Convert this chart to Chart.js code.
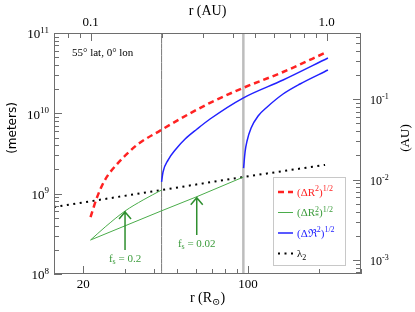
<!DOCTYPE html>
<html>
<head>
<meta charset="utf-8">
<script src="https://cdn.jsdelivr.net/npm/chart.js@4.4.1/dist/chart.umd.min.js"></script>
<style>
  html, body { margin: 0; padding: 0; background: #fff; }
  canvas { display: block; }
</style>
</head>
<body>
<canvas id="chart" width="415" height="312" style="width:415px;height:312px"></canvas>
<script>
'use strict';

// ── Units ──────────────────────────────────────────────────────
const RSUN_PER_AU = 215;
const M_PER_AU    = 1.496e11;
const R_MIN = 0.07 * RSUN_PER_AU;
const R_MAX = 1.4 * RSUN_PER_AU;
const M_MIN = 1e8;
const M_MAX = 1e11;

// ── Data (r in solar radii, sizes in metres) ───────────────────
const redR   = [21.5, 22.9, 24.8, 27.9, 31.6, 34.2, 42.4, 56.8, 69.0, 95.2, 140.7, 216];
const redM   = [5.1e8, 9.0e8, 1.5e9, 2.35e9, 3.4e9, 4.15e9, 6.1e9, 1.0e10, 1.35e10, 2.07e10, 3.27e10, 5.8e10];

const blue1R = [43, 43.6, 45.8, 49.5, 54.1, 60.8, 69.0, 95.2, 140.7, 218];
const blue1M = [1.4e9, 1.86e9, 2.62e9, 3.6e9, 4.79e9, 6.38e9, 8.5e9, 1.55e10, 2.6e10, 4.89e10];

const blue2R = [95.7, 97.1, 99.0, 103.0, 110.3, 120.5, 140.7, 166, 218];
const blue2M = [2.08e9, 3.3e9, 4.53e9, 6.56e9, 9.27e9, 1.2e10, 1.74e10, 2.32e10, 3.46e10];

const greenUpR = [21.5, 24.8, 30.1, 35.9, 43];
const greenUpM = [2.65e8, 3.85e8, 6.08e8, 8.34e8, 1.11e9];
const greenLoR = [21.5, 43, 60.6, 95.5];
const greenLoM = [2.65e8, 6.12e8, 9.16e8, 1.61e9];

const lambdaR = [15.05, 43, 95.5, 212];
const lambdaM = [6.82e8, 1.11e9, 1.61e9, 2.28e9];

const markerR = [43, 95.5];           // vertical reference lines

const arrowR    = [30.1, 60.6];
const arrowFrom = [1.99e8, 3.05e8];
const arrowTo   = [6.08e8, 9.16e8];
const arrowText = ['0.2', '0.02'];

const bottomTicks = [20, 100];
const topTicks    = [0.1, 1.0];
const topLabels   = ['0.1', '1.0'];
const leftExps    = [8, 9, 10, 11];
const rightExps   = [-3, -2, -1];

const legendLabels = [
  [{ t: '(ΔR' }, { t: '2', s: 'sup' }, { t: ')' }, { t: '1/2', s: 'sup' }],
  [{ t: '(ΔR' }, { t: '2', s: 'sup', under: '*' }, { t: ')' }, { t: '1/2', s: 'sup' }],
  [{ t: '(Δℜ' }, { t: '2', s: 'sup' }, { t: ')' }, { t: '1/2', s: 'sup' }],
  [{ t: 'λ' }, { t: '2', s: 'sub' }],
];

// ── Style constants ────────────────────────────────────────────
const SERIF  = "'Liberation Serif', 'DejaVu Serif', serif";
const SANS   = "'DejaVu Sans', sans-serif";
const RED    = '#ff2222';
const BLUE   = '#2222ff';
const GREEN  = '#4aac4a';
const GREEN_DK = '#2f8f2f';
const GREEN_TX = '#3c9c3c';
const AXIS_C = '#6e6e6e';

// ── Helpers ────────────────────────────────────────────────────
const pts = (rs, ms) => rs.map((r, i) => ({ x: r, y: ms[i] }));

function series(data, color, extra = {}) {
  return {
    data,
    borderColor: color,
    backgroundColor: color,
    borderWidth: 1.5,
    pointRadius: 0,
    fill: false,
    cubicInterpolationMode: 'monotone',
    ...extra,
  };
}

function logTicks(min, max) {
  const out = [];
  for (let d = Math.floor(Math.log10(min)); d <= Math.ceil(Math.log10(max)); d++) {
    for (let m = 1; m <= 9; m++) {
      const v = m * Math.pow(10, d);
      if (v >= min * 0.999 && v <= max * 1.001) out.push({ v, major: m === 1 });
    }
  }
  return out;
}

function partWidth(ctx, p, size) {
  if (!p.s) { ctx.font = `${size}px ${SERIF}`; return ctx.measureText(p.t).width; }
  ctx.font = `${Math.round(size * 0.7)}px ${SERIF}`;
  let w = ctx.measureText(p.t).width;
  if (p.under) w = Math.max(w, ctx.measureText(p.under).width);
  return w;
}

function drawRich(ctx, parts, x, y, size, color, align = 'left') {
  const total = parts.reduce((s, p) => s + partWidth(ctx, p, size), 0);
  let cx = align === 'center' ? x - total / 2 : align === 'right' ? x - total : x;
  ctx.fillStyle = color;
  ctx.textBaseline = 'alphabetic';
  ctx.textAlign = 'left';
  const base = y + size * 0.33;
  parts.forEach(p => {
    const w = partWidth(ctx, p, size);
    if (!p.s) {
      ctx.font = `${size}px ${SERIF}`;
      ctx.fillText(p.t, cx, base);
    } else {
      ctx.font = `${Math.round(size * 0.7)}px ${SERIF}`;
      const dy = p.s === 'sup' ? -size * 0.42 : size * 0.22;
      ctx.fillText(p.t, cx, base + dy);
      if (p.under) ctx.fillText(p.under, cx, base + size * 0.3);
    }
    cx += w;
  });
}

// ── Decorations plugin: frame, ticks, labels, legend, arrows ───
const decorations = {
  id: 'decorations',
  afterDraw(chart) {
    const { ctx, chartArea: a, scales } = chart;
    const { x, y, x2, y2 } = scales;
    ctx.save();

    // frame
    ctx.strokeStyle = AXIS_C;
    ctx.lineWidth = 1;
    ctx.strokeRect(a.left + 0.5, a.top + 0.5, a.right - a.left - 1, a.bottom - a.top - 1);

    // inward ticks
    const tick = (x0, y0, x1, y1) => {
      ctx.beginPath(); ctx.moveTo(x0, y0); ctx.lineTo(x1, y1); ctx.stroke();
    };
    logTicks(M_MIN, M_MAX).forEach(t => {
      const py = Math.round(y.getPixelForValue(t.v)) + 0.5;
      tick(a.left, py, a.left + (t.major ? 8 : 5), py);
    });
    logTicks(M_MIN / M_PER_AU, M_MAX / M_PER_AU).forEach(t => {
      const py = Math.round(y2.getPixelForValue(t.v)) + 0.5;
      tick(a.right, py, a.right - (t.major ? 8 : 5), py);
    });
    logTicks(R_MIN, R_MAX).forEach(t => {
      const px = Math.round(x.getPixelForValue(t.v)) + 0.5;
      const major = bottomTicks.some(b => Math.abs(b - t.v) < 1e-6);
      tick(px, a.bottom, px, a.bottom - (major ? 8 : 5));
    });
    logTicks(R_MIN / RSUN_PER_AU, R_MAX / RSUN_PER_AU).forEach(t => {
      const px = Math.round(x2.getPixelForValue(t.v)) + 0.5;
      tick(px, a.top, px, a.top + (t.major ? 8 : 5));
    });

    // tick labels
    leftExps.forEach(e => {
      const py = y.getPixelForValue(Math.pow(10, e));
      drawRich(ctx, [{ t: '10' }, { t: String(e), s: 'sup' }], a.left - 5, py + 1, 13, '#000', 'right');
    });
    rightExps.forEach(e => {
      const py = y2.getPixelForValue(Math.pow(10, e));
      drawRich(ctx, [{ t: '10' }, { t: String(e), s: 'sup' }], a.right + 9, py + 1, 12, '#000', 'left');
    });
    bottomTicks.forEach(v => {
      drawRich(ctx, [{ t: String(v) }], x.getPixelForValue(v), a.bottom + 10, 13, '#000', 'center');
    });
    topTicks.forEach((v, i) => {
      drawRich(ctx, [{ t: topLabels[i] }], x2.getPixelForValue(v), a.top - 11, 13, '#000', 'center');
    });

    // axis titles
    drawRich(ctx, [{ t: 'r (AU)' }], (a.left + a.right) / 2, 10, 14, '#000', 'center');
    drawRich(ctx, [{ t: 'r (R' }, { t: '⊙', s: 'sub' }, { t: ')' }], (a.left + a.right) / 2, 297, 14, '#000', 'center');

    ctx.save();
    ctx.translate(13, 128);
    ctx.rotate(-Math.PI / 2);
    ctx.font = `12px ${SANS}`;
    ctx.fillStyle = '#000';
    ctx.textAlign = 'center';
    ctx.textBaseline = 'middle';
    ctx.fillText('(meters)', 0, 0);
    ctx.restore();

    ctx.save();
    ctx.translate(405, 138);
    ctx.rotate(-Math.PI / 2);
    drawRich(ctx, [{ t: '(AU)' }], 0, 0, 13, '#000', 'center');
    ctx.restore();

    // annotation
    drawRich(ctx, [{ t: '55° lat, 0° lon' }], a.left + 18, 52, 11, '#000', 'left');

    // arrows
    arrowR.forEach((r, i) => {
      const px = x.getPixelForValue(r);
      const y0 = y.getPixelForValue(arrowFrom[i]);
      const y1 = y.getPixelForValue(arrowTo[i]);
      ctx.strokeStyle = GREEN_DK;
      ctx.lineWidth = 1.5;
      ctx.beginPath();
      ctx.moveTo(px, y0); ctx.lineTo(px, y1);
      ctx.moveTo(px - 6, y1 + 8); ctx.lineTo(px, y1 + 1); ctx.lineTo(px + 6, y1 + 8);
      ctx.stroke();
      drawRich(ctx, [{ t: 'f' }, { t: 's', s: 'sub' }, { t: ' = ' + arrowText[i] }], px, y0 + 8, 11, GREEN_TX, 'center');
    });

    // legend
    const lx = 273, ly = 177, lw = 72, lh = 88;
    ctx.fillStyle = '#fff';
    ctx.fillRect(lx, ly, lw, lh);
    ctx.strokeStyle = '#c8c8c8';
    ctx.lineWidth = 1;
    ctx.strokeRect(lx + 0.5, ly + 0.5, lw, lh);
    const sets = chart.data.datasets;
    const legendSets = [sets[0], sets[3], sets[1], sets[5]];
    const textColors = [RED, GREEN_TX, BLUE, '#000'];
    legendSets.forEach((ds, i) => {
      const ry = ly + 15 + i * 20.5;
      ctx.strokeStyle = ds.borderColor;
      ctx.lineWidth = ds.borderWidth;
      ctx.setLineDash(ds.borderDash || []);
      ctx.beginPath(); ctx.moveTo(lx + 5, ry); ctx.lineTo(lx + 20, ry); ctx.stroke();
      ctx.setLineDash([]);
      drawRich(ctx, legendLabels[i], lx + 24, ry, 11, textColors[i], 'left');
    });

    ctx.restore();
  },
};

// ── Chart ──────────────────────────────────────────────────────
new Chart(document.getElementById('chart').getContext('2d'), {
  type: 'line',
  data: {
    datasets: [
      series(pts(redR, redM), RED, { borderWidth: 2.5, borderDash: [6, 4] }),
      series(pts(blue1R, blue1M), BLUE),
      series(pts(blue2R, blue2M), BLUE),
      series(pts(greenUpR, greenUpM), GREEN, { borderWidth: 1 }),
      series(pts(greenLoR, greenLoM), GREEN, { borderWidth: 1, cubicInterpolationMode: 'default', tension: 0 }),
      series(pts(lambdaR, lambdaM), '#000', { borderWidth: 2, borderDash: [2, 4.5] }),
      series(pts([markerR[0], markerR[0]], [M_MIN, M_MAX]), '#7a7a7a', { borderWidth: 1, order: 10 }),
      series(pts([markerR[1], markerR[1]], [M_MIN, M_MAX]), '#bdbdbd', { borderWidth: 2.5, order: 10 }),
    ],
  },
  options: {
    responsive: false,
    animation: false,
    devicePixelRatio: 1,
    layout: { padding: { left: 54, right: 54, top: 33, bottom: 38 } },
    plugins: { legend: { display: false }, tooltip: { enabled: false } },
    scales: {
      x:  { type: 'logarithmic', min: R_MIN, max: R_MAX, display: false },
      y:  { type: 'logarithmic', min: M_MIN, max: M_MAX, display: false },
      x2: { type: 'logarithmic', position: 'top', min: R_MIN / RSUN_PER_AU, max: R_MAX / RSUN_PER_AU, display: false },
      y2: { type: 'logarithmic', position: 'right', min: M_MIN / M_PER_AU, max: M_MAX / M_PER_AU, display: false },
    },
  },
  plugins: [decorations],
});
</script>
</body>
</html>
